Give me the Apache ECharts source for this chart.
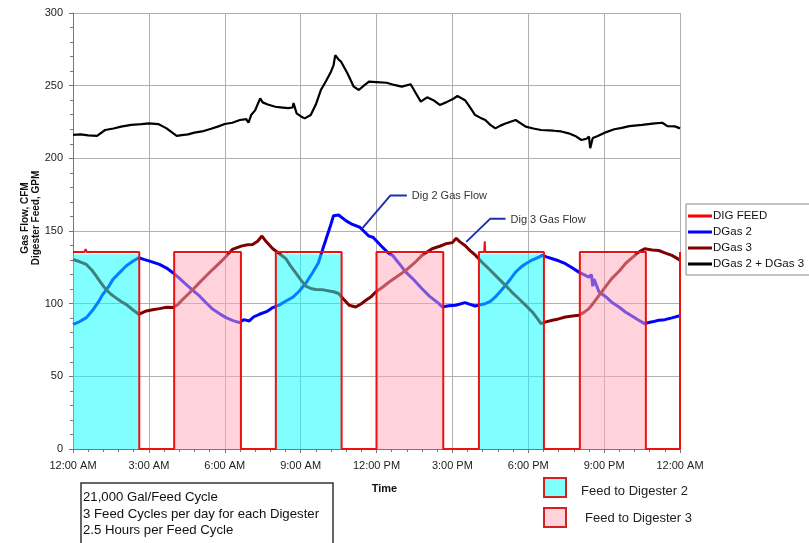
<!DOCTYPE html>
<html>
<head>
<meta charset="utf-8">
<script src="https://cdn.jsdelivr.net/npm/echarts@6/dist/echarts.min.js"></script>
<style>html,body{margin:0;padding:0;background:#fff}#c{width:809px;height:543px}</style>
</head>
<body>
<div id="c"></div>
<script>
// ---- data ----
const tickLabels = ['12:00 AM','3:00 AM','6:00 AM','9:00 AM','12:00 PM','3:00 PM','6:00 PM','9:00 PM','12:00 AM'];

const feedHours  = [0, 0.45, 0.5, 0.55, 2.62, 2.62, 4.0, 4.0, 6.64, 6.64, 8.02, 8.02, 10.62, 10.62, 12.0, 12.0, 14.64, 14.64, 16.05, 16.05, 16.26, 16.28, 16.3, 18.62, 18.62, 20.04, 20.04, 22.65, 22.65, 24, 24];
const feedValues = [135.5, 135.5, 137.5, 135.5, 135.5, 0, 0, 135.5, 135.5, 0, 0, 135.5, 135.5, 0, 0, 135.5, 135.5, 0, 0, 135.5, 135.5, 143, 135.5, 135.5, 0, 0, 135.5, 135.5, 0, 0, 135.5];

const dig2Feed = [[0, 2.62], [8.02, 10.62], [16.05, 18.62]];
const dig3Feed = [[4.0, 6.64], [12.0, 14.64], [20.04, 22.65]];
const fillTop = 134;

const gas2Hours  = [0, 0.25, 0.53, 0.8, 1.0, 1.18, 1.4, 1.58, 1.85, 2.1, 2.35, 2.6, 2.8, 3.03, 3.42, 3.7, 3.95, 4.2, 4.47, 4.75, 5.0, 5.25, 5.53, 5.8, 6.05, 6.3, 6.58, 6.75, 6.97, 7.15, 7.37, 7.65, 7.9, 8.15, 8.42, 8.7, 8.95, 9.2, 9.47, 9.7, 9.87, 10.0, 10.15, 10.3, 10.5, 10.8, 11.05, 11.34, 11.7, 11.86, 12.2, 12.5, 12.65, 12.9, 13.16, 13.5, 13.8, 14.1, 14.47, 14.6, 14.85, 15.13, 15.5, 15.7, 15.9, 16.1, 16.3, 16.5, 16.7, 16.9, 17.1, 17.3, 17.5, 17.7, 17.9, 18.15, 18.42, 18.55, 18.75, 18.95, 19.2, 19.47, 19.75, 20.0, 20.2, 20.4, 20.5, 20.55, 20.6, 20.8, 21.05, 21.3, 21.6, 21.84, 22.1, 22.37, 22.6, 22.9, 23.16, 23.4, 23.68, 23.95, 24];
const gas2Values = [85.8, 87.5, 90.4, 96, 101, 106.4, 111.5, 116.7, 121.5, 125.9, 129, 131.6, 130.5, 129.3, 127, 124.5, 121.3, 117.5, 113.3, 109, 105.3, 100.8, 96.1, 93, 90.4, 88.5, 87, 89, 88.1, 91, 92.7, 94.5, 97.3, 99, 101.8, 104.5, 108.7, 114, 121.3, 128, 137.3, 144.2, 152, 160.5, 161, 157, 154.5, 152.6, 146.5, 145.7, 139.5, 134.3, 133, 127.5, 121.7, 116, 110.3, 105, 100, 97.7, 98.5, 98.9, 100.7, 99.5, 98.4, 99.3, 100, 101.5, 104.6, 108.5, 112.6, 117, 121.7, 125, 127.5, 130, 132, 133.2, 132, 130.9, 129.5, 127.5, 124.5, 121.7, 120, 118.3, 120, 112, 117, 108, 105, 101, 97.5, 94.3, 91.5, 88.6, 86.3, 87.5, 88.6, 89, 90.2, 91.5, 91.8];

const gas3Hours  = [0, 0.25, 0.53, 0.75, 0.92, 1.1, 1.3, 1.5, 1.7, 1.9, 2.1, 2.35, 2.6, 2.9, 3.15, 3.42, 3.7, 3.95, 4.15, 4.34, 4.55, 4.74, 5.0, 5.26, 5.55, 5.8, 6.05, 6.3, 6.65, 6.9, 7.1, 7.3, 7.47, 7.6, 7.9, 8.15, 8.42, 8.6, 8.8, 9.0, 9.2, 9.4, 9.6, 9.9, 10.13, 10.3, 10.5, 10.7, 10.92, 11.18, 11.4, 11.58, 11.8, 11.97, 12.25, 12.5, 12.8, 13.16, 13.5, 13.8, 14.0, 14.2, 14.5, 14.74, 15.0, 15.15, 15.3, 15.5, 15.7, 15.92, 16.1, 16.3, 16.5, 16.7, 16.9, 17.1, 17.35, 17.63, 17.9, 18.16, 18.35, 18.5, 18.7, 18.95, 19.2, 19.47, 19.75, 20.0, 20.2, 20.4, 20.6, 20.8, 21.05, 21.3, 21.6, 21.84, 22.1, 22.37, 22.6, 22.9, 23.16, 23.4, 23.68, 23.95, 24];
const gas3Values = [130.4, 129, 127, 123, 119, 114.5, 109.8, 106.5, 104, 101.5, 99.5, 96, 92.7, 95, 95.8, 96.6, 97.5, 97.3, 99.5, 103, 106.5, 109.8, 114.5, 119, 124, 128.1, 132.5, 137.3, 139.6, 140.5, 140.7, 143, 146.5, 143.5, 137.8, 134.5, 130.9, 126, 121.3, 116.5, 112.1, 110.5, 109.8, 109.5, 108.7, 108.2, 107, 103, 98.9, 97.7, 100, 102.3, 105, 108, 111.5, 114.9, 118.5, 122.9, 128, 133.2, 135.5, 137.8, 139.5, 141.2, 142, 145, 142.5, 140, 136.5, 133.2, 129.8, 126.3, 123, 119.5, 116, 112.6, 108, 103.4, 98.8, 94.3, 90, 86.3, 87.5, 88.6, 89.5, 90.8, 91.5, 92, 94, 96.6, 101, 105.7, 111.5, 117.2, 122.5, 127.5, 131.5, 135.5, 137.8, 137, 136.6, 135, 133.2, 130.5, 129.7];

const totalHours  = [0, 0.3, 0.6, 0.95, 1.27, 1.6, 1.9, 2.3, 2.7, 3.0, 3.37, 3.7, 3.9, 4.1, 4.3, 4.55, 4.8, 5.1, 5.46, 5.75, 6.0, 6.3, 6.6, 6.85, 6.94, 7.05, 7.2, 7.4, 7.5, 7.7, 8.0, 8.2, 8.5, 8.68, 8.72, 8.84, 9.0, 9.16, 9.4, 9.6, 9.8, 10.0, 10.2, 10.3, 10.37, 10.5, 10.6, 10.85, 11.1, 11.3, 11.5, 11.7, 12.0, 12.4, 12.7, 13.0, 13.35, 13.55, 13.75, 14.0, 14.25, 14.5, 14.75, 15.0, 15.2, 15.5, 15.7, 15.9, 16.1, 16.3, 16.5, 16.7, 16.9, 17.1, 17.5, 17.9, 18.2, 18.5, 19.0, 19.3, 19.6, 19.9, 20.1, 20.3, 20.4, 20.45, 20.55, 20.75, 21.0, 21.4, 21.7, 22.0, 22.5, 23.0, 23.3, 23.5, 23.8, 24];
const totalValues = [216.1, 216.5, 215.8, 215.4, 219.5, 220.5, 221.8, 223, 223.5, 224.1, 223.6, 220.6, 218, 215.4, 216, 216.5, 217.7, 218.5, 220.4, 222, 223.6, 224.5, 226.4, 227, 224.5, 230, 233, 241.3, 238.5, 237, 235.5, 235.1, 234.5, 235, 238, 231, 229, 227.5, 229.8, 237, 247, 253, 259.6, 264, 271, 268, 266.5, 258.5, 249.3, 247, 250, 252.8, 252.5, 252, 250.5, 249.3, 251, 245, 239, 242, 240, 236.7, 238.5, 240.6, 242.9, 240, 235, 229.8, 228, 226.4, 223, 220.6, 222.5, 224, 226.4, 221.8, 220.5, 219.5, 219, 218.5, 217.2, 215, 212.6, 213.5, 215, 207, 214, 215.4, 217.5, 220, 221, 222.2, 223, 224.1, 224.5, 222.2, 222, 220.6];

// annotation callouts: [label, curve point, elbow, end] in data units
const callouts = [
  ['Dig 2 Gas Flow', [11.42, 151.5], [12.55, 174.5], [13.2, 174.5]],
  ['Dig 3 Gas Flow', [15.55, 142.5], [16.5, 158.5], [17.1, 158.5]]
];

const pairs = (xs, ys) => xs.map((x, i) => [x, ys[i]]);

const chart = echarts.init(document.getElementById('c'));
const FONT = "'Liberation Sans', Arial, sans-serif";

function rectItem(params, api) {
  const p0 = api.coord([api.value(0), fillTop]);
  const p1 = api.coord([api.value(1), 0]);
  return {
    type: 'rect',
    shape: { x: p0[0], y: p0[1], width: p1[0] - p0[0], height: p1[1] - p0[1] },
    style: { fill: api.visual('color') }
  };
}

chart.setOption({
  animation: false,
  textStyle: { fontFamily: FONT },
  grid: { left: 73, right: 129, top: 13, bottom: 94 },
  legend: {
    data: ['DIG FEED', 'DGas 2', 'DGas 3', 'DGas 2 + DGas 3'],
    orient: 'vertical', left: 686, top: 204,
    icon: 'rect', itemWidth: 24, itemHeight: 3, itemGap: 4,
    padding: [6, 10, 5, 2],
    borderColor: '#888', borderWidth: 1,
    textStyle: { fontSize: 11.5, color: '#111', padding: [0, 0, 0, -4], lineHeight: 12 }
  },
  xAxis: {
    type: 'value', min: 0, max: 24, interval: 3,
    name: 'Time', nameLocation: 'middle', nameGap: 34,
    nameTextStyle: { fontWeight: 'bold', fontSize: 11, color: '#111', padding: [0, 0, 0, 16] },
    axisLine: { show: true, lineStyle: { color: '#777' } },
    axisTick: { show: true, length: 4, lineStyle: { color: '#777' } },
    minorTick: { show: true, splitNumber: 5, length: 3, lineStyle: { color: '#777' } },
    axisLabel: { fontSize: 11, color: '#222', margin: 11, formatter: v => tickLabels[Math.round(v / 3)] },
    splitLine: { show: true, lineStyle: { color: '#b0b0b0', width: 1 } }
  },
  yAxis: {
    type: 'value', min: 0, max: 300, interval: 50,
    name: 'Gas Flow, CFM\nDigester Feed, GPM', nameLocation: 'middle', nameGap: 31,
    nameMoveOverlap: false,
    nameTextStyle: { fontWeight: 'bold', fontSize: 10, color: '#111', lineHeight: 11, padding: [0, 0, 0, 26] },
    axisLine: { show: true, lineStyle: { color: '#777' } },
    axisTick: { show: true, length: 4, lineStyle: { color: '#777' } },
    minorTick: { show: true, splitNumber: 5, length: 3, lineStyle: { color: '#777' } },
    axisLabel: { fontSize: 11, color: '#222', margin: 10 },
    splitLine: { show: true, lineStyle: { color: '#b0b0b0', width: 1 } }
  },
  series: [
    {
      name: 'DGas 2 + DGas 3', type: 'line', data: pairs(totalHours, totalValues),
      showSymbol: false, color: '#000', lineStyle: { width: 2.2, color: '#000' }, z: 2
    },
    {
      name: 'DGas 2', type: 'line', data: pairs(gas2Hours, gas2Values),
      showSymbol: false, color: '#0000ff', lineStyle: { width: 3, color: '#0000ff' }, z: 2
    },
    {
      name: 'DGas 3', type: 'line', data: pairs(gas3Hours, gas3Values),
      showSymbol: false, color: '#800000', lineStyle: { width: 3, color: '#800000' }, z: 2
    },
    {
      name: 'Feed to Digester 2', type: 'custom', data: dig2Feed, renderItem: rectItem,
      itemStyle: { color: 'rgba(0,255,255,0.5)' }, encode: { x: [0, 1] }, z: 3, silent: true
    },
    {
      name: 'Feed to Digester 3', type: 'custom', data: dig3Feed, renderItem: rectItem,
      itemStyle: { color: 'rgba(255,165,185,0.5)' }, encode: { x: [0, 1] }, z: 3, silent: true
    },
    {
      name: 'DIG FEED', type: 'line', data: pairs(feedHours, feedValues),
      showSymbol: false, color: '#ff0000', lineStyle: { width: 2, color: '#ee1111' }, z: 4
    },
    {
      type: 'lines', coordinateSystem: 'cartesian2d', polyline: true, z: 5, silent: true,
      lineStyle: { color: '#1f2fb0', width: 2, opacity: 1 },
      data: callouts.map(c => ({ name: c[0], coords: [c[1], c[2], c[3]] }))
    }
  ]
});

// static decorations plus callout labels placed at the converted end point of each callout line
const graphics = [
  { type: 'rect', shape: { x: 81, y: 483, width: 252, height: 72 }, style: { fill: '#fff', stroke: '#333', lineWidth: 1.5 } },
  { type: 'text', x: 83, y: 497, style: { text: '21,000 Gal/Feed Cycle', font: "13.2px " + FONT, fill: '#111', verticalAlign: 'middle' } },
  { type: 'text', x: 83, y: 514, style: { text: '3 Feed Cycles per day for each Digester', font: "13.2px " + FONT, fill: '#111', verticalAlign: 'middle' } },
  { type: 'text', x: 83, y: 530, style: { text: '2.5 Hours per Feed Cycle', font: "13.2px " + FONT, fill: '#111', verticalAlign: 'middle' } },
  { type: 'rect', shape: { x: 544, y: 478, width: 22, height: 19 }, style: { fill: '#80ffff', stroke: '#d42020', lineWidth: 2 } },
  { type: 'text', x: 581, y: 491, style: { text: 'Feed to Digester 2', font: "13px " + FONT, fill: '#222', verticalAlign: 'middle' } },
  { type: 'rect', shape: { x: 544, y: 508, width: 22, height: 19 }, style: { fill: '#ffd2dc', stroke: '#d42020', lineWidth: 2 } },
  { type: 'text', x: 585, y: 518, style: { text: 'Feed to Digester 3', font: "13px " + FONT, fill: '#222', verticalAlign: 'middle' } }
];
callouts.forEach(c => {
  const p = chart.convertToPixel({ gridIndex: 0 }, c[3]);
  graphics.push({ type: 'text', x: p[0] + 5, y: p[1] + 1, z: 10,
    style: { text: c[0], font: "11px " + FONT, fill: '#333', verticalAlign: 'middle' } });
});
chart.setOption({ graphic: graphics });
</script>
</body>
</html>
